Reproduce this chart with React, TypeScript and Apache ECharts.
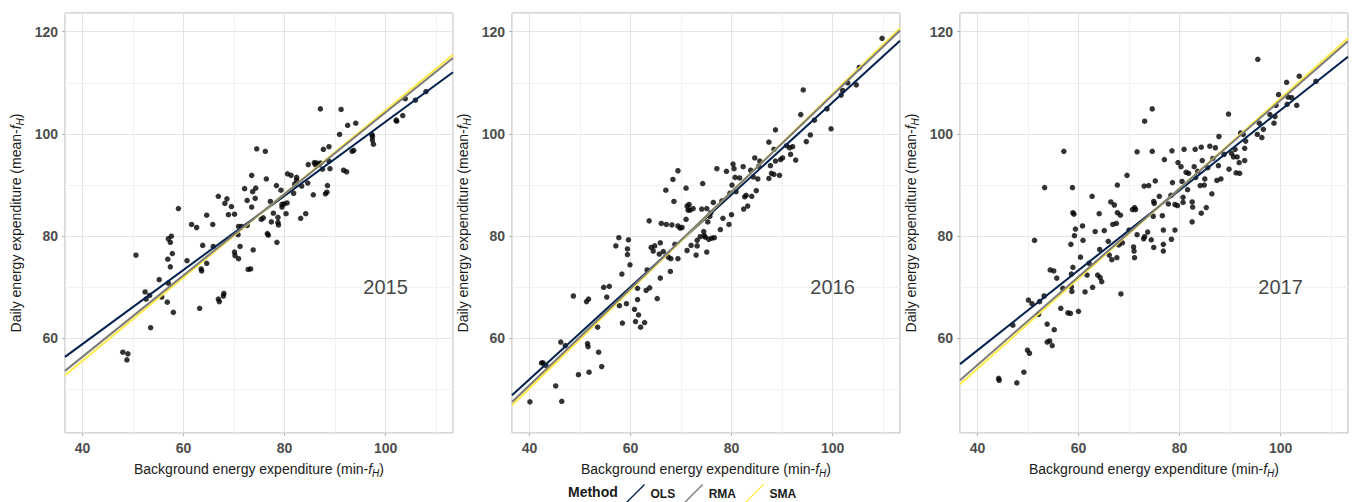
import React, { useEffect, useRef } from "react";
import * as echarts from "echarts";

const years = ["2015", "2016", "2017"];
const methods = ["OLS", "RMA", "SMA"];
const methodColors = ["#00204D", "#7C7B78", "#FFEA46"];

const xLimits = [36.55, 113.35];
const yLimits = [41.5, 123.66];
const minorGrid = [50, 70, 90, 110];
const yearLabelPos = [100, 70];

// regression slopes / intercepts per year, order OLS, RMA, SMA
const slopes = [
  [0.725, 0.797, 0.816],
  [0.903, 0.946, 0.96],
  [0.783, 0.863, 0.881],
];
const intercepts = [
  [29.9, 24.52, 22.99],
  [15.88, 13.0, 11.85],
  [26.35, 20.29, 18.85],
];

const points2015: number[][] = [
  [48.0, 57.3], [49.0, 57.0], [48.8, 55.8], [50.6, 76.3], [52.4, 69.1], [52.6, 67.7], [53.3, 68.4], [53.5, 62.1],
  [55.2, 71.5], [55.7, 68.1], [56.8, 67.1], [56.9, 75.5], [57.0, 79.5], [57.0, 70.8], [57.4, 78.8], [57.6, 80.0],
  [57.4, 74.0], [57.8, 76.6], [58.0, 65.1], [59.0, 85.4], [60.7, 75.2], [61.6, 82.3], [62.6, 81.7], [63.2, 65.9],
  [63.5, 73.6], [63.6, 73.2], [63.8, 78.2], [64.6, 84.1], [64.6, 74.7], [65.8, 82.3], [65.9, 78.0], [66.9, 87.8],
  [66.9, 67.7], [67.1, 67.2], [67.9, 68.3], [68.0, 68.8], [68.2, 86.4], [68.6, 87.3], [68.9, 84.2], [69.5, 85.8],
  [70.1, 84.3], [70.1, 76.9], [70.2, 76.2], [70.9, 81.9], [70.9, 75.6], [71.2, 78.0], [70.8, 80.3], [71.5, 81.9],
  [72.1, 89.3], [72.6, 87.0], [72.6, 82.1], [72.8, 73.5], [73.3, 73.6], [73.5, 91.9], [73.5, 85.7], [73.8, 77.3],
  [73.7, 88.7], [74.2, 87.4], [74.3, 89.4], [74.5, 97.1], [75.4, 83.3], [75.8, 83.6], [76.2, 96.6], [76.4, 91.2],
  [76.6, 80.5], [76.8, 80.2], [77.2, 86.8], [77.4, 82.8], [77.8, 84.5], [78.4, 89.9], [78.5, 78.8], [78.7, 83.7],
  [78.7, 82.7], [78.8, 82.2], [79.3, 89.0], [79.5, 85.7], [79.5, 86.2], [79.9, 86.3], [80.3, 84.4], [80.5, 86.5],
  [80.6, 92.2], [81.3, 91.9], [81.8, 88.4], [82.0, 90.2], [82.4, 91.5], [82.4, 90.9], [83.2, 83.5], [83.4, 89.8],
  [84.2, 84.4], [84.6, 90.4], [84.7, 94.0], [85.7, 88.1], [85.9, 94.4], [86.1, 94.0], [86.4, 94.3], [86.8, 94.0],
  [87.1, 104.9], [87.1, 94.3], [87.5, 93.1], [87.7, 97.0], [88.1, 88.3], [88.4, 88.6], [88.5, 89.9], [88.8, 97.5],
  [89.0, 93.2], [88.8, 94.7], [90.9, 99.9], [91.2, 104.8], [91.7, 92.9], [92.3, 92.6], [92.5, 101.7], [93.4, 96.6],
  [93.7, 96.8], [94.1, 102.1], [97.3, 99.9], [97.4, 99.5], [97.4, 98.8], [97.6, 98.0], [102.1, 102.7], [102.2, 102.5],
  [103.4, 103.6], [103.9, 106.9], [105.9, 106.6], [108.0, 108.3],
];

const points2016: number[][] = [
  [40.1, 47.6], [42.4, 55.2], [42.7, 55.2], [43.3, 54.7], [45.2, 50.7], [46.2, 59.3], [46.4, 47.7], [47.1, 58.6],
  [48.7, 68.3], [49.7, 52.9], [51.3, 67.2], [51.7, 67.7], [51.5, 59.0], [51.6, 58.4], [51.8, 53.4], [53.5, 62.2],
  [53.7, 57.3], [54.3, 54.5], [54.7, 70.0], [55.3, 68.1], [55.8, 70.2], [57.1, 78.1], [57.7, 79.7], [57.8, 66.4],
  [58.3, 72.6], [58.4, 63.0], [59.2, 66.8], [59.4, 77.5], [59.6, 79.3], [59.4, 76.4], [59.9, 74.4], [60.8, 65.7],
  [61.0, 63.3], [61.4, 69.8], [61.4, 67.6], [61.6, 64.6], [62.0, 62.2], [62.8, 63.1], [63.1, 69.4], [63.3, 73.4],
  [63.7, 83.0], [63.8, 69.9], [64.1, 77.8], [64.5, 77.1], [64.8, 78.1], [65.3, 67.8], [65.7, 76.5], [65.9, 78.7],
  [65.9, 71.8], [66.1, 82.5], [66.5, 77.0], [67.0, 89.0], [67.1, 82.3], [67.5, 75.9], [67.9, 73.1], [68.0, 75.6],
  [68.2, 82.2], [68.4, 91.1], [68.6, 86.8], [68.8, 78.4], [69.4, 92.8], [69.4, 75.6], [69.4, 82.0], [69.8, 81.6],
  [70.2, 81.7], [71.0, 89.4], [71.0, 83.3], [71.2, 85.9], [71.2, 77.2], [71.4, 85.1], [71.6, 86.2], [71.8, 85.1],
  [72.0, 78.2], [72.4, 85.4], [73.0, 76.3], [73.2, 78.1], [73.2, 79.2], [73.8, 79.9], [74.1, 85.3], [74.3, 90.3],
  [74.5, 80.9], [74.6, 80.1], [74.8, 79.8], [75.1, 76.9], [75.1, 85.4], [75.3, 82.8], [75.5, 79.4], [75.7, 83.9],
  [75.9, 84.6], [76.1, 79.6], [76.4, 86.6], [76.6, 79.7], [77.1, 93.2], [77.8, 81.3], [78.1, 86.9], [78.3, 83.5],
  [79.0, 92.7], [79.5, 82.3], [79.7, 88.4], [80.0, 84.2], [80.1, 90.0], [80.3, 94.1], [80.5, 93.2], [80.7, 91.5],
  [80.9, 88.7], [81.6, 91.4], [82.3, 93.6], [82.4, 85.3], [82.6, 87.7], [82.9, 88.0], [83.2, 85.9], [83.8, 92.9],
  [84.0, 87.8], [84.3, 91.6], [84.6, 95.3], [84.9, 88.9], [85.2, 91.2], [85.4, 93.7], [85.6, 94.7], [87.4, 98.4],
  [87.4, 91.3], [87.7, 93.8], [87.9, 92.3], [88.4, 92.1], [88.4, 97.0], [88.7, 100.8], [88.7, 94.7], [89.5, 91.9],
  [89.7, 95.0], [90.1, 95.3], [90.9, 97.7], [91.5, 97.3], [91.7, 96.0], [92.1, 97.5], [92.7, 94.9], [93.7, 103.8],
  [94.2, 108.6], [94.8, 98.5], [95.6, 99.8], [96.4, 102.7], [98.9, 104.9], [99.7, 101.0], [101.7, 107.6], [102.0, 108.5],
  [103.0, 110.0], [104.7, 109.6], [105.3, 113.0], [109.8, 118.7],
];

const points2017: number[][] = [
  [44.2, 52.2], [44.3, 51.8], [47.8, 51.3], [47.0, 62.6], [49.2, 53.4], [49.9, 57.7], [50.3, 57.1], [50.1, 67.5],
  [50.8, 66.8], [51.3, 79.2], [52.1, 64.7], [52.3, 67.2], [53.2, 68.3], [53.3, 89.5], [53.8, 62.8], [53.8, 59.3],
  [54.3, 59.5], [54.4, 73.4], [54.8, 58.6], [55.1, 73.2], [55.2, 61.7], [55.7, 71.8], [56.5, 65.9], [56.9, 69.8],
  [57.1, 96.6], [57.9, 65.0], [58.4, 64.9], [58.5, 78.4], [58.6, 72.6], [58.6, 70.1], [58.7, 69.2], [58.8, 89.5],
  [58.9, 84.6], [59.1, 84.3], [58.9, 73.9], [59.4, 81.4], [59.2, 80.1], [60.0, 65.3], [60.4, 75.9], [60.8, 82.0],
  [60.9, 79.2], [61.3, 69.1], [61.7, 72.4], [62.1, 74.7], [62.7, 87.8], [62.8, 70.0], [63.3, 80.9], [63.8, 72.4],
  [64.1, 84.4], [64.2, 77.4], [64.3, 71.9], [64.6, 71.1], [65.1, 81.1], [65.9, 79.0], [66.1, 76.3], [66.4, 86.7],
  [66.6, 75.4], [66.8, 82.3], [67.1, 86.1], [67.5, 82.5], [67.6, 75.8], [67.7, 90.0], [67.7, 84.6], [68.0, 78.3],
  [68.3, 84.1], [68.4, 68.7], [68.7, 78.7], [69.6, 91.9], [70.0, 81.2], [70.7, 85.2], [70.9, 77.9], [71.0, 77.1],
  [71.1, 75.8], [71.1, 85.6], [71.3, 85.2], [71.6, 96.5], [71.6, 80.3], [72.9, 79.5], [73.1, 102.5], [73.0, 89.8],
  [73.1, 79.9], [73.7, 80.8], [73.9, 89.9], [74.4, 79.3], [74.6, 96.6], [74.6, 104.9], [74.8, 83.9], [74.9, 77.8],
  [74.9, 86.8], [75.0, 86.4], [75.2, 90.8], [76.0, 87.8], [76.6, 84.0], [76.8, 78.4], [76.8, 77.1], [76.8, 81.2],
  [77.0, 95.0], [77.8, 86.3], [78.3, 88.0], [78.4, 79.4], [78.5, 96.7], [78.6, 90.5], [79.1, 81.2], [79.1, 86.2],
  [79.6, 86.0], [79.7, 94.4], [80.3, 93.6], [80.5, 90.7], [80.7, 87.6], [80.7, 86.6], [80.9, 97.0], [81.3, 92.5],
  [81.6, 89.1], [81.8, 92.3], [82.5, 82.8], [82.5, 86.7], [82.6, 85.7], [82.9, 93.6], [83.2, 91.5], [83.1, 97.0],
  [83.6, 92.7], [84.1, 89.9], [84.3, 84.5], [84.3, 97.4], [84.5, 94.8], [84.9, 90.0], [85.0, 91.2], [85.3, 85.6],
  [85.6, 93.4], [86.0, 97.6], [86.4, 88.3], [86.6, 95.2], [87.1, 97.3], [87.4, 90.9], [87.7, 93.8], [87.8, 99.5],
  [88.2, 91.2], [88.8, 96.0], [89.7, 103.9], [89.8, 93.1], [90.3, 96.2], [90.7, 95.5], [91.0, 97.0], [91.2, 92.4],
  [91.4, 95.5], [91.8, 94.4], [91.9, 92.3], [92.1, 100.2], [92.6, 99.9], [92.9, 94.8], [92.9, 97.2], [93.1, 98.6],
  [95.4, 99.9], [95.5, 114.6], [95.8, 102.1], [96.3, 99.3], [96.6, 100.9], [97.9, 103.8], [98.7, 102.1], [98.9, 103.4],
  [99.1, 105.6], [99.6, 107.7], [101.2, 110.1], [101.3, 105.8], [101.5, 107.2], [102.2, 107.1], [103.2, 105.6], [103.7, 111.3],
  [107.0, 110.3],
];

const pointsByYear = [points2015, points2016, points2017];

const FONT = "'Liberation Sans', Arial, Helvetica, sans-serif";

export default function App() {
  const ref = useRef<HTMLDivElement>(null);

  useEffect(() => {
    document.body.style.margin = "0";
    if (!ref.current) return;
    const chart = echarts.init(ref.current, undefined, { renderer: "svg" });

    const gridLefts = [65, 512, 960];
    const grids = gridLefts.map((left) => ({
      left,
      top: 13,
      width: 388,
      height: 420,
      show: true,
      borderColor: "#b3b3b3",
      borderWidth: 1,
      backgroundColor: "#ffffff",
    }));

    const richName = {
      i: { fontStyle: "italic", fontSize: 14, fontFamily: FONT, color: "#1a1a1a" },
      s: { fontStyle: "italic", fontSize: 10, fontFamily: FONT, color: "#1a1a1a", padding: [9, 0, 0, 0] },
    };

    const xAxes = years.map((_, i) => ({
      type: "value",
      gridIndex: i,
      min: xLimits[0],
      max: xLimits[1],
      splitNumber: 4,
      name: "Background energy expenditure (min-{i|f}{s|H})",
      nameLocation: "middle",
      nameGap: 26,
      nameTextStyle: { fontSize: 14, fontFamily: FONT, color: "#1a1a1a", rich: richName },
      axisLine: { show: false },
      axisTick: { show: true, length: 3, lineStyle: { color: "#b3b3b3" } },
      axisLabel: {
        showMinLabel: false,
        showMaxLabel: false,
        margin: 8,
        fontSize: 14,
        fontWeight: "bold",
        fontFamily: FONT,
        color: "#4d4d4d",
      },
      splitLine: { show: true, lineStyle: { color: "#e4e4e4", width: 1 } },
    }));

    const yAxes = years.map((_, i) => ({
      type: "value",
      gridIndex: i,
      min: yLimits[0],
      max: yLimits[1],
      splitNumber: 4,
      name: "Daily energy expenditure (mean-{i|f}{s|H})",
      nameLocation: "middle",
      nameGap: 40,
      nameTextStyle: { fontSize: 14, fontFamily: FONT, color: "#1a1a1a", rich: richName },
      axisLine: { show: false },
      axisTick: { show: true, length: 3, lineStyle: { color: "#b3b3b3" } },
      axisLabel: {
        showMinLabel: false,
        showMaxLabel: false,
        margin: 7,
        fontSize: 14,
        fontWeight: "bold",
        fontFamily: FONT,
        color: "#4d4d4d",
      },
      splitLine: { show: true, lineStyle: { color: "#e4e4e4", width: 1 } },
    }));

    const series: any[] = [];
    years.forEach((year, i) => {
      // minor grid lines
      series.push({
        type: "line",
        xAxisIndex: i,
        yAxisIndex: i,
        data: [],
        z: 0,
        silent: true,
        markLine: {
          silent: true,
          symbol: "none",
          animation: false,
          z: 0,
          label: { show: false },
          lineStyle: { color: "#f1f1f1", width: 1, type: "solid" },
          data: [
            ...minorGrid.map((v) => ({ xAxis: v })),
            ...minorGrid.map((v) => ({ yAxis: v })),
          ],
        },
      });
      series.push({
        type: "scatter",
        name: "points" + year,
        xAxisIndex: i,
        yAxisIndex: i,
        data: pointsByYear[i],
        symbolSize: 5.5,
        itemStyle: { color: "#000000" },
        z: 2,
        silent: true,
      });
      const order = [0, 2, 1];
      order.forEach((m) => {
        const b = slopes[i][m];
        const a = intercepts[i][m];
        series.push({
          type: "line",
          name: methods[m],
          xAxisIndex: i,
          yAxisIndex: i,
          data: [
            [xLimits[0], a + b * xLimits[0]],
            [xLimits[1], a + b * xLimits[1]],
          ],
          showSymbol: false,
          symbol: "none",
          clip: true,
          lineStyle: { color: methodColors[m], width: 2 },
          itemStyle: { color: methodColors[m] },
          z: 3,
          silent: true,
        });
      });
      series.push({
        type: "scatter",
        name: "label" + year,
        xAxisIndex: i,
        yAxisIndex: i,
        data: [yearLabelPos],
        symbolSize: 0,
        z: 4,
        silent: true,
        label: {
          show: true,
          position: "inside",
          formatter: year,
          fontSize: 20,
          fontFamily: FONT,
          color: "#111111",
        },
      });
    });

    const legendIcon = "path://M0,19 L19,0 L20,1 L1,20 Z";

    chart.setOption({
      animation: false,
      backgroundColor: "#ffffff",
      grid: grids,
      xAxis: xAxes,
      yAxis: yAxes,
      legend: {
        data: methods.map((m) => ({ name: m, icon: legendIcon })),
        left: 626,
        top: 484,
        padding: 0,
        itemWidth: 20,
        itemHeight: 19,
        itemGap: 9,
        selectedMode: false,
        textStyle: { fontSize: 12, fontWeight: "bold", fontFamily: FONT, color: "#1a1a1a" },
      },
      graphic: [
        {
          type: "text",
          left: 568,
          top: 485,
          style: {
            text: "Method",
            fontSize: 14,
            fontWeight: "bold",
            fontFamily: FONT,
            fill: "#1a1a1a",
          },
        },
      ],
      series,
    });

    return () => {
      chart.dispose();
    };
  }, []);

  return <div ref={ref} style={{ width: 1352, height: 502 }} />;
}
